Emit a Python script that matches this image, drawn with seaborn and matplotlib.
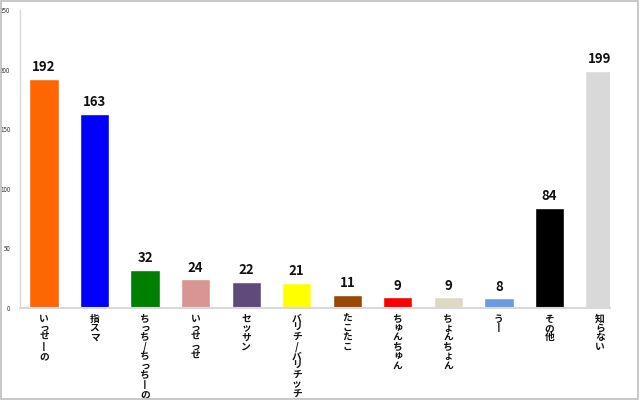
import matplotlib
matplotlib.use("Agg")
import matplotlib.pyplot as plt
import seaborn as sns
import pandas as pd

categories = ["いっせーの", "指スマ", "ちっち/ちっちーの", "いっせっせ", "セッサン",
              "バリチ/バリチッチ", "たこたこ", "ちゅんちゅん", "ちょんちょん", "うー",
              "その他", "知らない"]
values = [192, 163, 32, 24, 22, 21, 11, 9, 9, 8, 84, 199]
colors = ["#FF6600", "#0000FF", "#008000", "#D99594", "#604A7B", "#FFFF00",
          "#984807", "#FF0000", "#DDD9C3", "#6A9BE0", "#000000", "#D9D9D9"]
yticks = [0, 50, 100, 150, 200, 250]

sns.set_theme(style="white")
plt.rcParams['font.family'] = ['Noto Sans CJK JP', 'DejaVu Sans']

df = pd.DataFrame({"cat": categories, "val": values})

fig = plt.figure(figsize=(6.4, 4.0), dpi=100)
ax = fig.add_axes([0.03125, 0.23, 0.922, 0.745])
sns.barplot(data=df, x="cat", y="val", hue="cat", palette=colors, legend=False,
            width=0.58, ax=ax, saturation=1)

ax.set_ylim(0, 250)
ax.set_xlim(-0.475, 11.2)
ax.set_yticks(yticks)
ax.set_yticklabels([str(t) for t in yticks], fontsize=4.5, color="#333333")
ax.tick_params(axis="y", length=0, pad=7)
ax.tick_params(axis="x", length=0, pad=4)
ax.set_xlabel("")
ax.set_ylabel("")

def vert(s):
    s = s.replace("ー", "丨")
    return "\n".join(s)

ax.set_xticks(range(len(categories)))
ax.set_xticklabels([vert(c) for c in categories], fontsize=7, fontweight="bold",
                   linespacing=0.92, va="top", color="#111111")

for i, v in enumerate(values):
    ax.text(i, v + 4, str(v), ha="center", va="bottom", fontsize=9.5,
            fontweight="bold", color="#111111")

for s in ["top", "right"]:
    ax.spines[s].set_visible(False)
ax.spines["left"].set_color("#D9D9D9")
ax.spines["bottom"].set_color("#D9D9D9")
ax.spines["left"].set_linewidth(1.0)
ax.spines["bottom"].set_linewidth(1.5)

border = plt.Rectangle((0.002, 0.002), 0.995, 0.995, transform=fig.transFigure,
                       fill=False, edgecolor="#BFBFBF", linewidth=1.2)
fig.patches.append(border)

fig.savefig("out.png", dpi=100)
